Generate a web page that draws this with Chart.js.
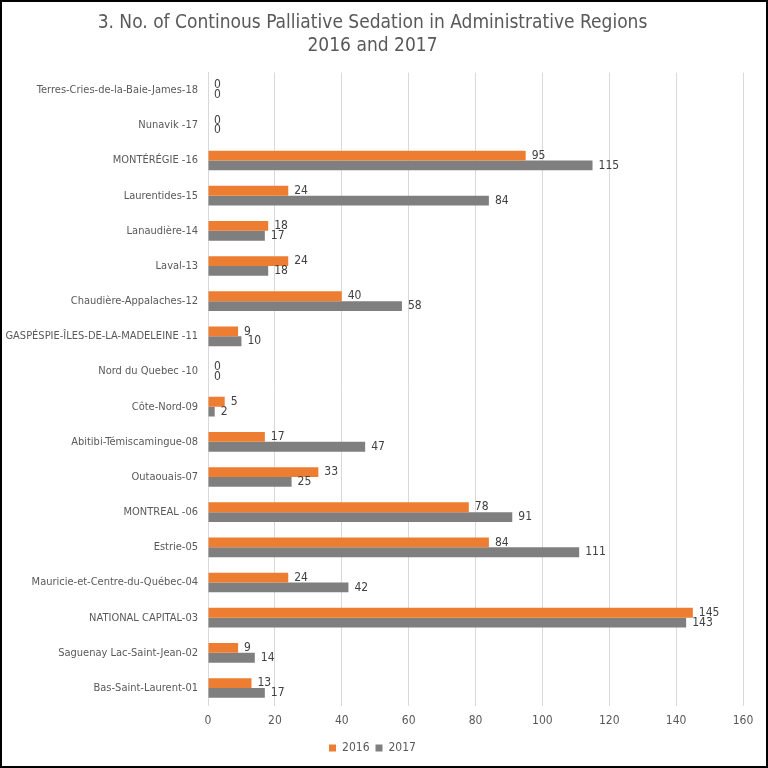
<!DOCTYPE html>
<html>
<head>
<meta charset="utf-8">
<script src="https://cdn.jsdelivr.net/npm/chart.js@4.4.0/dist/chart.umd.min.js"></script>
<style>
	html, body { margin: 0; padding: 0; background: #fff; }
	#wrap { width: 768px; height: 768px; box-sizing: border-box; border: 2px solid #000; }
	#chart-area { display: block; }
</style>
</head>
<body>
<div id="wrap"><canvas id="chart-area" width="764" height="764"></canvas></div>
<script>
// regions, top to bottom as in the reference
var regions = [
	"Terres-Cries-de-la-Baie-James-18",
	"Nunavik -17",
	"MONTÉRÉGIE -16",
	"Laurentides-15",
	"Lanaudière-14",
	"Laval-13",
	"Chaudière-Appalaches-12",
	"GASPÉSPIE-ÎLES-DE-LA-MADELEINE -11",
	"Nord du Quebec -10",
	"Côte-Nord-09",
	"Abitibi-Témiscamingue-08",
	"Outaouais-07",
	"MONTREAL -06",
	"Estrie-05",
	"Mauricie-et-Centre-du-Québec-04",
	"NATIONAL CAPITAL-03",
	"Saguenay Lac-Saint-Jean-02",
	"Bas-Saint-Laurent-01"
];
var values2016 = [0, 0, 95, 24, 18, 24, 40, 9, 0, 5, 17, 33, 78, 84, 24, 145, 9, 13];
var values2017 = [0, 0, 115, 84, 17, 18, 58, 10, 0, 2, 47, 25, 91, 111, 42, 143, 14, 17];
var titleLines = ["3. No. of Continous Palliative Sedation in Administrative Regions", "2016 and 2017"];

var FONT = "'Liberation Sans Narrow', 'DejaVu Sans Condensed', sans-serif";
var TEXT = "#595959";

// value labels at the end of each bar
var barLabels = {
	id: 'barLabels',
	afterDatasetsDraw: function (chart) {
		var ctx = chart.ctx;
		ctx.save();
		ctx.font = "12px " + FONT;
		ctx.fillStyle = "#404040";
		ctx.textAlign = "left";
		ctx.textBaseline = "middle";
		chart.data.datasets.forEach(function (ds, i) {
			chart.getDatasetMeta(i).data.forEach(function (bar, j) {
				ctx.fillText(ds.data[j], bar.x + 6, bar.y);
			});
		});
		ctx.restore();
	}
};

Chart.defaults.font.family = FONT;
Chart.defaults.color = TEXT;

var ctx = document.getElementById("chart-area").getContext("2d");
new Chart(ctx, {
	type: 'bar',
	data: {
		labels: regions,
		datasets: [
			{ label: "2016", data: values2016, backgroundColor: "#ED7D31" },
			{ label: "2017", data: values2017, backgroundColor: "#7F7F7F" }
		]
	},
	options: {
		indexAxis: 'y',
		responsive: false,
		animation: false,
		categoryPercentage: 0.56,
		barPercentage: 1,
		layout: { padding: { left: 0, right: 23, top: 0, bottom: 2 } },
		plugins: {
			title: {
				display: true,
				text: titleLines,
				color: TEXT,
				font: { size: 19, weight: 'normal' },
				padding: { top: 10, bottom: 15 }
			},
			legend: {
				position: 'bottom',
				labels: { boxWidth: 7, boxHeight: 7, font: { size: 12 }, color: TEXT, padding: 6 }
			},
			tooltip: { enabled: false }
		},
		scales: {
			x: {
				min: 0,
				max: 160,
				ticks: { stepSize: 20, font: { size: 12 }, color: TEXT, padding: 8 },
				grid: { color: "#D9D9D9", drawTicks: false },
				border: { display: false }
			},
			y: {
				ticks: { font: { size: 11 }, color: TEXT, padding: 10 },
				grid: { display: false, drawTicks: false },
				border: { color: "#D9D9D9" },
				afterFit: function (scale) { scale.width = 206; }
			}
		}
	},
	plugins: [barLabels]
});
</script>
</body>
</html>
